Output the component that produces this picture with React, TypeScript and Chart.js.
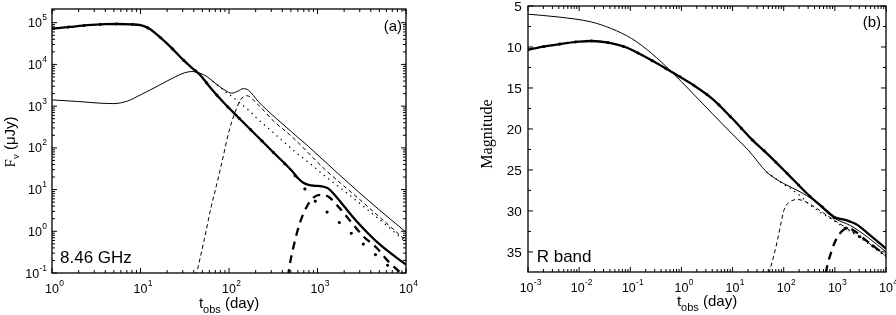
import React, { useEffect, useRef } from "react";
import { Chart, registerables } from "chart.js";
Chart.register(...registerables);

const SANS = "'Liberation Sans', Arial, Helvetica, sans-serif";
const SERIF = "'Liberation Serif', 'Times New Roman', Times, serif";

// ---------------- Panel (a): 8.46 GHz ----------------
const radioXTicks = [1, 10, 100, 1000, 10000];
const radioYTicks = [0.1, 1, 10, 100, 1000, 10000, 100000];

const radioThickSolidT = [1, 1.58, 2.51, 3.98, 5.62, 7.94, 10, 12.6, 16.6, 22.4, 30.2, 38, 46.8, 63.1, 90.2, 126, 214, 316, 513, 603, 692, 794, 933, 1122, 1318, 1585, 1995, 2884, 5012, 10000];
const radioThickSolidF = [72000, 79000, 87000, 92000, 93000, 91000, 87000, 72000, 45000, 25000, 13000, 8300, 5700, 2600, 1120, 550, 180, 78.5, 28.2, 18.6, 14.5, 12.9, 12.3, 12.0, 10.7, 7.24, 3.98, 1.58, 0.49, 0.158];

const radioThickDotT = [1, 1.58, 2.51, 3.98, 5.62, 7.94, 10, 12.6, 16.6, 22.4, 30.2, 38, 46.8, 63.1, 90.2, 126, 214, 316, 513, 692, 955, 1349, 1950, 2754, 3890, 5495, 10000];
const radioThickDotF = [72000, 79000, 87000, 92000, 93000, 91000, 87000, 72000, 45000, 25000, 13000, 8300, 5700, 2600, 1120, 550, 180, 78.5, 27, 11.5, 5.13, 2.63, 1.35, 0.692, 0.363, 0.191, 0.063];

const radioThickDashT = [462, 501, 537, 631, 759, 912, 1072, 1318, 1778, 2455, 3311, 4677, 6310, 10000];
const radioThickDashF = [0.08, 0.224, 0.437, 1.57, 3.94, 6.61, 7.5, 6.84, 3.59, 1.57, 0.75, 0.398, 0.19, 0.079];

const radioThinSolidT = [1, 2, 3.55, 5, 7.08, 10, 16.6, 25.1, 31.6, 38, 46.8, 56.2, 66.1, 90.2, 107, 126, 145, 166, 214, 331, 794, 1862, 4467, 10000];
const radioThinSolidF = [1410, 1290, 1175, 1150, 1320, 1860, 3240, 5130, 6310, 6760, 6170, 5130, 3890, 2400, 2040, 2290, 2630, 2400, 1290, 537, 107, 20.4, 3.98, 0.955];

const radioThinDotT = [66.1, 90.2, 117, 141, 174, 204, 245, 331, 407, 575, 851, 1202, 1862, 2884, 4074, 5754, 10000];
const radioThinDotF = [3890, 2270, 1480, 1070, 741, 525, 372, 214, 145, 75.9, 39.8, 21.4, 10.5, 5.01, 2.75, 1.51, 0.55];

const radioThinDashT = [42.5, 52.5, 63.1, 74.1, 85.1, 100, 117, 135, 158, 214, 316, 513, 1202, 2884, 10000];
const radioThinDashF = [0.085, 0.631, 3.98, 15.8, 56.2, 251, 708, 1410, 1780, 1070, 447, 186, 31, 6.2, 0.6];

// ---------------- Panel (b): R band ----------------
const optXTicks = [0.001, 0.01, 0.1, 1, 10, 100, 1000, 10000];
const optYTicks = [5, 10, 15, 20, 25, 30, 35];

const optThickSolidT = [0.001, 0.002, 0.00389, 0.01, 0.0174, 0.0372, 0.0794, 0.195, 0.646, 1.58, 3.98, 9.77, 24, 47.3, 100, 158, 288, 562, 955, 1202, 1514, 1995, 2754, 4365, 10000];
const optThickSolidM = [10.35, 9.95, 9.67, 9.35, 9.27, 9.46, 10.0, 11.2, 13.05, 14.5, 16.3, 18.7, 21.3, 23.0, 25.0, 26.26, 27.9, 29.5, 30.7, 30.95, 31.05, 31.3, 31.7, 32.7, 34.6];

const optThickDotT = [0.001, 0.002, 0.00389, 0.01, 0.0174, 0.0372, 0.0794, 0.195, 0.646, 1.58, 3.98, 9.77, 24, 47.3, 100, 158, 288, 562, 955, 1202, 1514, 2239, 3162, 6310, 10000];
const optThickDotM = [10.35, 9.95, 9.67, 9.35, 9.27, 9.46, 10.0, 11.2, 13.05, 14.5, 16.3, 18.7, 21.3, 23.0, 25.0, 26.26, 27.9, 29.5, 30.8, 31.4, 31.9, 32.6, 33.2, 34.5, 35.3];

const optThickDashT = [661, 741, 832, 955, 1122, 1413, 1778, 2512, 3548, 6310, 10000];
const optThickDashM = [37.6, 36.2, 35.2, 34.1, 33.2, 32.4, 32.1, 32.5, 33.3, 34.5, 35.4];

const optThinSolidT = [0.001, 0.00389, 0.0174, 0.0427, 0.107, 0.263, 0.646, 1.58, 3.98, 9.77, 20.4, 47.3, 100, 214, 363, 955, 2042, 4365, 10000];
const optThinSolidM = [6.0, 6.34, 6.95, 7.76, 8.98, 10.8, 13.05, 15.5, 18.1, 20.6, 22.6, 25.3, 26.66, 27.7, 28.6, 30.85, 31.8, 33.2, 35.0];

const optThinDotT = [47.3, 100, 135, 214, 331, 955, 3162, 10000];
const optThinDotM = [25.3, 26.75, 27.25, 28.2, 29.3, 31.2, 33.3, 35.6];

const optThinDashT = [51.3, 63.1, 74.1, 87.1, 100, 112, 135, 182, 251, 331, 955, 3162, 10000];
const optThinDashM = [37.6, 35.6, 33.8, 31.7, 30.0, 29.3, 28.85, 28.6, 28.8, 29.2, 31.1, 33.2, 35.5];

// ---------------- helpers ----------------
const pts = (xs: number[], ys: number[]) => xs.map((x, i) => ({ x, y: ys[i] }));

const THICK_SOLID = { borderWidth: 2.3, borderDash: [] as number[], borderCapStyle: "butt" };
const THICK_DOT = { borderWidth: 3, borderDash: [0.1, 16], borderCapStyle: "round" };
const THICK_DASH = { borderWidth: 2.3, borderDash: [8, 6], borderCapStyle: "butt" };
const THIN_SOLID = { borderWidth: 1, borderDash: [] as number[], borderCapStyle: "butt" };
const THIN_DOT = { borderWidth: 1.4, borderDash: [0.1, 5.5], borderCapStyle: "round" };
const THIN_DASH = { borderWidth: 1, borderDash: [4, 3], borderCapStyle: "butt" };

function ds(label: string, xs: number[], ys: number[], style: any) {
  return {
    label,
    data: pts(xs, ys),
    borderColor: "#000",
    backgroundColor: "#000",
    fill: false,
    pointRadius: 0,
    cubicInterpolationMode: "monotone",
    clip: 0,
    ...style,
  };
}

const expOf = (v: number) => String(Math.round(Math.log10(v)));

function drawPowX(ctx: CanvasRenderingContext2D, cx: number, baseline: number, e: string) {
  ctx.font = `12.5px ${SANS}`;
  const w10 = ctx.measureText("10").width;
  ctx.font = `8.5px ${SANS}`;
  const we = ctx.measureText(e).width;
  const wd = ctx.measureText("0").width;
  const x0 = cx - w10 / 2 - Math.max(0, we - wd) / 2;
  ctx.textAlign = "left";
  ctx.textBaseline = "alphabetic";
  ctx.font = `12.5px ${SANS}`;
  ctx.fillText("10", x0, baseline);
  ctx.font = `8.5px ${SANS}`;
  ctx.fillText(e, x0 + w10 + 0.3, baseline - 7);
}

function drawPowY(ctx: CanvasRenderingContext2D, right: number, cy: number, e: string) {
  ctx.font = `12.5px ${SANS}`;
  const w10 = ctx.measureText("10").width;
  ctx.font = `8.5px ${SANS}`;
  const we = ctx.measureText(e).width;
  const x0 = right - we - w10 - 0.3;
  const baseline = cy + 4.5;
  ctx.textAlign = "left";
  ctx.textBaseline = "alphabetic";
  ctx.font = `12.5px ${SANS}`;
  ctx.fillText("10", x0, baseline);
  ctx.font = `8.5px ${SANS}`;
  ctx.fillText(e, x0 + w10 + 0.3, baseline - 7);
}

type Part = [string, string, number];
function drawParts(ctx: CanvasRenderingContext2D, parts: Part[], cx: number, baseline: number) {
  let total = 0;
  for (const [t, f] of parts) {
    ctx.font = f;
    total += ctx.measureText(t).width;
  }
  let x = cx - total / 2;
  ctx.textAlign = "left";
  ctx.textBaseline = "alphabetic";
  for (const [t, f, dy] of parts) {
    ctx.font = f;
    ctx.fillText(t, x, baseline + dy);
    x += ctx.measureText(t).width;
  }
}

function tickLine(ctx: CanvasRenderingContext2D, x1: number, y1: number, x2: number, y2: number) {
  ctx.beginPath();
  ctx.moveTo(x1, y1);
  ctx.lineTo(x2, y2);
  ctx.stroke();
}

function drawXTicks(ctx: CanvasRenderingContext2D, a: any, sx: any, majors: number[]) {
  const MAJ = 5, MIN = 3;
  for (let i = 0; i < majors.length; i++) {
    const v = majors[i];
    const p = sx.getPixelForValue(v);
    tickLine(ctx, p, a.bottom, p, a.bottom - MAJ);
    tickLine(ctx, p, a.top, p, a.top + MAJ);
    if (i < majors.length - 1) {
      for (let k = 2; k <= 9; k++) {
        const q = sx.getPixelForValue(v * k);
        tickLine(ctx, q, a.bottom, q, a.bottom - MIN);
        tickLine(ctx, q, a.top, q, a.top + MIN);
      }
    }
  }
}

function drawYTicksLog(ctx: CanvasRenderingContext2D, a: any, sy: any, majors: number[]) {
  const MAJ = 5, MIN = 3;
  for (let i = 0; i < majors.length; i++) {
    const v = majors[i];
    const p = sy.getPixelForValue(v);
    tickLine(ctx, a.left, p, a.left + MAJ, p);
    tickLine(ctx, a.right, p, a.right - MAJ, p);
    for (let k = 2; k <= 9; k++) {
      if (v * k > sy.max) break;
      const q = sy.getPixelForValue(v * k);
      tickLine(ctx, a.left, q, a.left + MIN, q);
      tickLine(ctx, a.right, q, a.right - MIN, q);
    }
  }
}

function drawYTicksLin(ctx: CanvasRenderingContext2D, a: any, sy: any, majors: number[]) {
  const MAJ = 5, MIN = 3;
  for (const v of majors) {
    const p = sy.getPixelForValue(v);
    tickLine(ctx, a.left, p, a.left + MAJ, p);
    tickLine(ctx, a.right, p, a.right - MAJ, p);
    const m = v + 2.5;
    if (m <= sy.max) {
      const q = sy.getPixelForValue(m);
      tickLine(ctx, a.left, q, a.left + MIN, q);
      tickLine(ctx, a.right, q, a.right - MIN, q);
    }
  }
}

const radioDecor = {
  id: "radioDecor",
  afterDraw(chart: any) {
    const { ctx, chartArea: a, scales } = chart;
    const sx = scales.x, sy = scales.y;
    ctx.save();
    ctx.strokeStyle = "#000";
    ctx.fillStyle = "#000";
    ctx.lineWidth = 1;
    drawXTicks(ctx, a, sx, radioXTicks);
    drawYTicksLog(ctx, a, sy, radioYTicks);
    ctx.lineWidth = 1.3;
    ctx.strokeRect(a.left, a.top, a.right - a.left, a.bottom - a.top);
    for (const v of radioXTicks) drawPowX(ctx, sx.getPixelForValue(v), 292.5, expOf(v));
    for (const v of radioYTicks) drawPowY(ctx, 47, sy.getPixelForValue(v), expOf(v));
    drawParts(ctx, [["t", `15px ${SANS}`, 0], ["obs", `11px ${SANS}`, 5], [" (day)", `15px ${SANS}`, 0]], (a.left + a.right) / 2, 307.5);
    ctx.save();
    ctx.translate(15, 142);
    ctx.rotate(-Math.PI / 2);
    drawParts(ctx, [["F", `15px ${SERIF}`, 0], ["ν", `11px ${SERIF}`, 4], [" (μJy)", `15px ${SANS}`, 0]], 0, 0);
    ctx.restore();
    ctx.font = `17px ${SANS}`;
    ctx.textAlign = "left";
    ctx.fillText("8.46 GHz", 60, 263);
    ctx.font = `15px ${SANS}`;
    ctx.textAlign = "right";
    ctx.fillText("(a)", 402, 31);
    ctx.restore();
  },
};

const optDecor = {
  id: "optDecor",
  afterDraw(chart: any) {
    const { ctx, chartArea: a, scales } = chart;
    const sx = scales.x, sy = scales.y;
    ctx.save();
    ctx.strokeStyle = "#000";
    ctx.fillStyle = "#000";
    ctx.lineWidth = 1;
    drawXTicks(ctx, a, sx, optXTicks);
    drawYTicksLin(ctx, a, sy, optYTicks);
    ctx.lineWidth = 1.3;
    ctx.strokeRect(a.left, a.top, a.right - a.left, a.bottom - a.top);
    for (const v of optXTicks) drawPowX(ctx, sx.getPixelForValue(v), 292, expOf(v));
    ctx.font = `13.5px ${SANS}`;
    ctx.textAlign = "right";
    ctx.textBaseline = "alphabetic";
    for (const v of optYTicks) ctx.fillText(String(v), 81.7, sy.getPixelForValue(v) + 4.8);
    drawParts(ctx, [["t", `15px ${SANS}`, 0], ["obs", `11px ${SANS}`, 5], [" (day)", `15px ${SANS}`, 0]], (a.left + a.right) / 2, 306);
    ctx.save();
    ctx.translate(52, 134);
    ctx.rotate(-Math.PI / 2);
    ctx.font = `16px ${SERIF}`;
    ctx.textAlign = "center";
    ctx.fillText("Magnitude", 0, 0);
    ctx.restore();
    ctx.font = `17px ${SANS}`;
    ctx.textAlign = "left";
    ctx.fillText("R band", 96.7, 261.5);
    ctx.font = `15px ${SANS}`;
    ctx.textAlign = "right";
    ctx.fillText("(b)", 441, 27);
    ctx.restore();
  },
};

function baseOptions(padding: any, xMin: number, xMax: number, yScale: any, yWidth: number, xHeight: number) {
  return {
    responsive: false,
    maintainAspectRatio: false,
    animation: false,
    devicePixelRatio: 1,
    events: [],
    layout: { padding },
    plugins: { legend: { display: false }, tooltip: { enabled: false }, title: { display: false } },
    scales: {
      x: {
        type: "logarithmic",
        min: xMin,
        max: xMax,
        ticks: { display: false },
        grid: { display: false, drawTicks: false },
        border: { display: false },
        afterFit: (s: any) => { s.height = xHeight; },
      },
      y: {
        ...yScale,
        ticks: { display: false },
        grid: { display: false, drawTicks: false },
        border: { display: false },
        afterFit: (s: any) => { s.width = yWidth; },
      },
    },
  };
}

export default function App() {
  const leftRef = useRef<HTMLCanvasElement>(null);
  const rightRef = useRef<HTMLCanvasElement>(null);

  useEffect(() => {
    const left = new Chart(leftRef.current as HTMLCanvasElement, {
      type: "line",
      data: {
        datasets: [
          ds("thin dashed", radioThinDashT, radioThinDashF, THIN_DASH),
          ds("thin dotted", radioThinDotT, radioThinDotF, THIN_DOT),
          ds("thin solid", radioThinSolidT, radioThinSolidF, THIN_SOLID),
          ds("thick dashed", radioThickDashT, radioThickDashF, THICK_DASH),
          ds("thick dotted", radioThickDotT, radioThickDotF, THICK_DOT),
          ds("thick solid", radioThickSolidT, radioThickSolidF, THICK_SOLID),
        ] as any,
      },
      options: baseOptions({ top: 9, right: 34, left: 0, bottom: 0 }, 1, 10000, { type: "logarithmic", min: 0.1, max: 213000 }, 52, 42) as any,
      plugins: [radioDecor as any],
    });
    const right = new Chart(rightRef.current as HTMLCanvasElement, {
      type: "line",
      data: {
        datasets: [
          ds("thin dashed", optThinDashT, optThinDashM, THIN_DASH),
          ds("thin dotted", optThinDotT, optThinDotM, THIN_DOT),
          ds("thin solid", optThinSolidT, optThinSolidM, THIN_SOLID),
          ds("thick dashed", optThickDashT, optThickDashM, THICK_DASH),
          ds("thick dotted", optThickDotT, optThickDotM, THICK_DOT),
          ds("thick solid", optThickSolidT, optThickSolidM, THICK_SOLID),
        ] as any,
      },
      options: baseOptions({ top: 6, right: 10, left: 0, bottom: 0 }, 0.001, 10000, { type: "linear", min: 5, max: 37.45, reverse: true }, 88, 43) as any,
      plugins: [optDecor as any],
    });
    return () => {
      left.destroy();
      right.destroy();
    };
  }, []);

  return (
    <div style={{ position: "fixed", left: 0, top: 0, width: 896, height: 315, background: "#fff", overflow: "hidden" }}>
      <canvas ref={leftRef} width={440} height={315} style={{ position: "absolute", left: 0, top: 0, width: 440, height: 315 }} />
      <canvas ref={rightRef} width={456} height={315} style={{ position: "absolute", left: 440, top: 0, width: 456, height: 315 }} />
    </div>
  );
}
